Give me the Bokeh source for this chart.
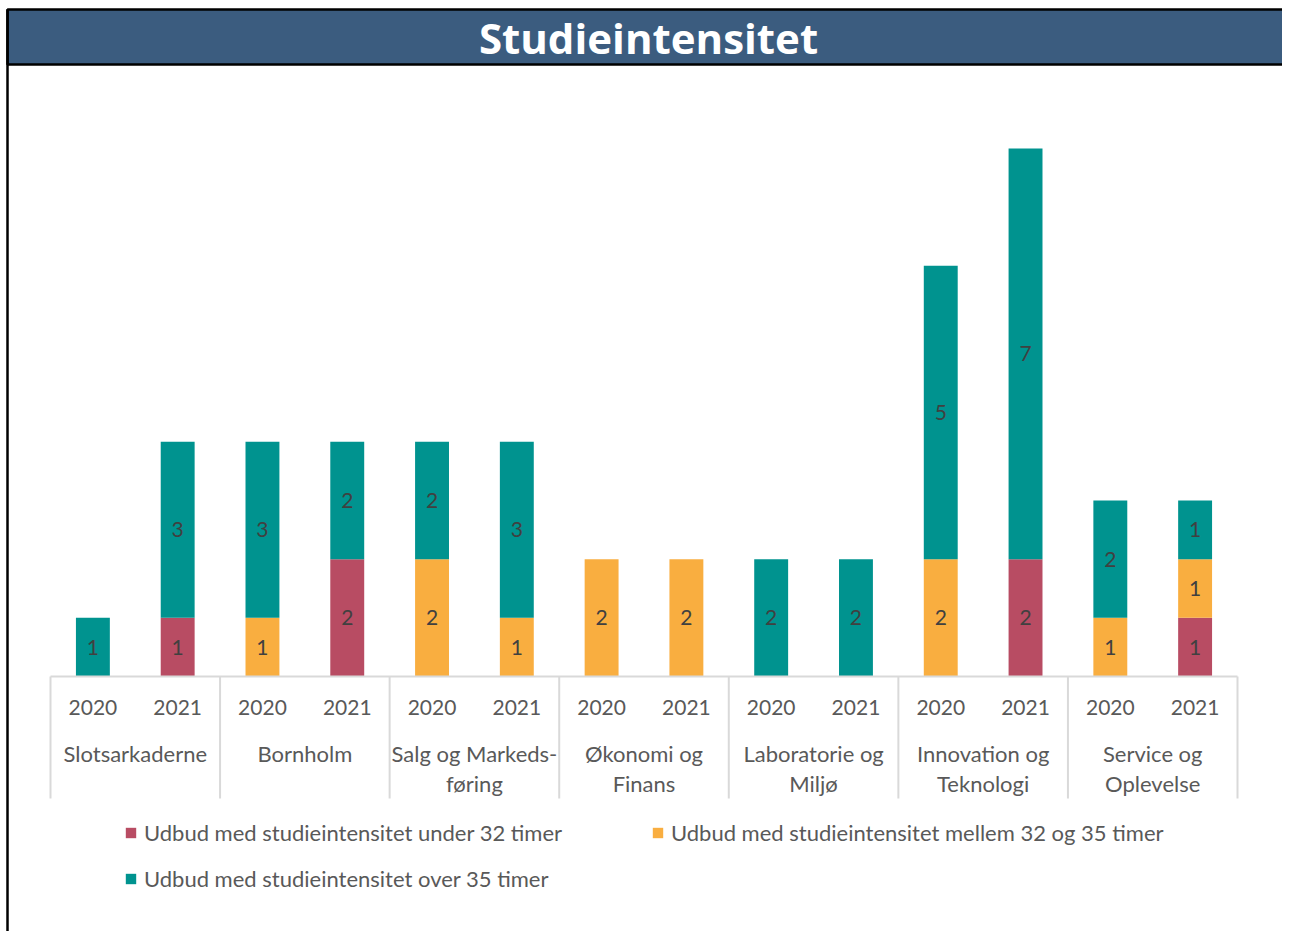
from bokeh.plotting import figure
from bokeh.models import ColumnDataSource, Range1d, Legend, LegendItem
from bokeh.core.properties import value
from bokeh.embed import file_html
from bokeh.resources import INLINE

# ---------------- data ----------------
title = "Studieintensitet"
groups = ["Slotsarkaderne", "Bornholm", "Salg og Markeds-\nføring", "Økonomi og\nFinans",
          "Laboratorie og\nMiljø", "Innovation og\nTeknologi", "Service og\nOplevelse"]
years = ["2020", "2021"]
under32 = [0, 1, 0, 2, 0, 0, 0, 0, 0, 0, 0, 2, 0, 1]
mellem32_35 = [0, 0, 1, 0, 2, 1, 2, 2, 0, 0, 2, 0, 1, 1]
over35 = [1, 3, 3, 2, 2, 3, 0, 0, 2, 2, 5, 7, 2, 1]
series_names = ["Udbud med studieintensitet under 32 timer",
                "Udbud med studieintensitet mellem 32 og 35 timer",
                "Udbud med studieintensitet over 35 timer"]
colors = ["#b84c63", "#f9ae40", "#00938f"]

FONT = "Lato"
W, H = 1282, 931
UX = 1187 / 14.0          # px per category slot
UY = 58.67                # px per unit
X0 = -50 / UX             # data x at canvas left
Y0 = 676 / UY             # data y at canvas top


def dx(px):
    return X0 + px / UX


def dy(px):
    return Y0 - px / UY


n = len(under32)
xs = [i + 0.5 for i in range(n)]
src = ColumnDataSource(dict(x=xs, under=under32, mellem=mellem32_35, over=over35))

p = figure(width=W, height=H, output_backend="svg", toolbar_location=None,
           x_range=Range1d(X0, X0 + W / UX), y_range=Range1d(dy(H), Y0),
           min_border=0)
p.xaxis.visible = False
p.yaxis.visible = False
p.grid.visible = False
p.outline_line_color = None
p.background_fill_color = "white"
p.border_fill_color = "white"

# title band
p.quad(left=[dx(7)], right=[dx(W + 5)], top=[dy(9)], bottom=[dy(64)],
       fill_color="#3b5c7f", line_color="black", line_width=2.5)
p.text(x=[dx(648)], y=[dy(37)], text=[title], text_font=value("Open Sans"),
       text_font_style="bold", text_font_size="42px", text_color="white",
       text_align="center", text_baseline="middle")
# left border
p.segment(x0=[dx(7)], x1=[dx(7)], y0=[dy(9)], y1=[dy(H + 5)], line_color="black", line_width=2.5)

# stacked bars
rs = p.vbar_stack(["under", "mellem", "over"], x="x", width=0.4, color=colors,
                  line_color=None, source=src)

# value labels
lx, ly, lt = [], [], []
for i in range(n):
    base = 0
    for v in (under32[i], mellem32_35[i], over35[i]):
        if v:
            lx.append(xs[i])
            ly.append(base + v / 2)
            lt.append(str(v))
        base += v
p.text(x=lx, y=ly, text=lt, text_font=value(FONT), text_font_size="21px",
       text_color="#404040", text_align="center", text_baseline="middle")

# category axis (drawn)
sep_x = [2 * g for g in range(len(groups) + 1)]
p.segment(x0=sep_x, x1=sep_x, y0=[0] * len(sep_x), y1=[-122 / UY] * len(sep_x),
          line_color="#d9d9d9", line_width=2)
p.segment(x0=[0], x1=[n], y0=[0], y1=[0], line_color="#d9d9d9", line_width=2)

year_labels = [years[i % 2] for i in range(n)]
p.text(x=xs, y=[-31 / UY] * n, text=year_labels, text_font=value(FONT),
       text_font_size="21px", text_color="#595959", text_align="center",
       text_baseline="middle")

gx, gy, gt = [], [], []
for g, name in enumerate(groups):
    for k, line in enumerate(name.split("\n")):
        gx.append(2 * g + 1)
        gy.append(-(77 + 30 * k) / UY)
        gt.append(line)
p.text(x=gx, y=gy, text=gt, text_font=value(FONT), text_font_size="22px",
       text_color="#595959", text_align="center", text_baseline="middle")

# legend
items = [LegendItem(label=series_names[k], renderers=[rs[k]]) for k in range(3)]
legend = Legend(items=items, ncols=2, orientation="horizontal",
                location=(124, 39), padding=0, margin=0, spacing=19,
                label_width=488, label_height=22, glyph_width=13, glyph_height=13,
                label_standoff=7, border_line_color=None, background_fill_alpha=0,
                label_text_font=FONT, label_text_font_size="22px",
                label_text_color="#595959")
p.add_layout(legend, "center")

open("out.html", "w").write(file_html(p, INLINE))
